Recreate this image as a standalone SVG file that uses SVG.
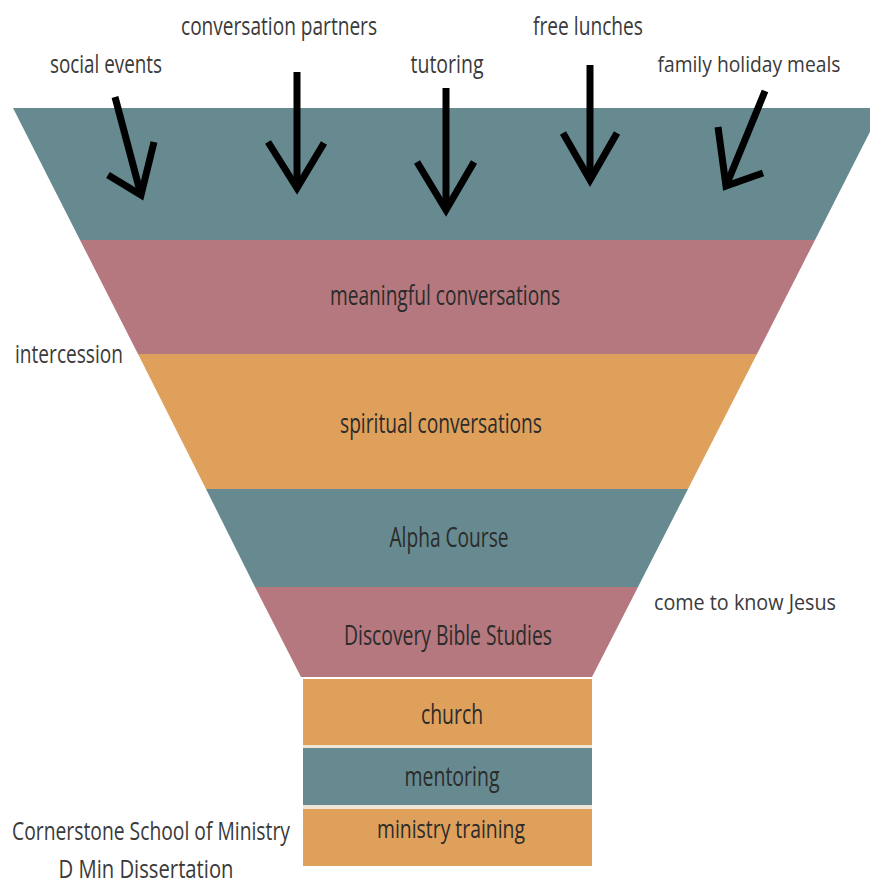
<svg xmlns="http://www.w3.org/2000/svg" width="870" height="886" viewBox="0 0 870 886">
<style>
.teal{fill:#668a8f}
.pink{fill:#b4787e}
.orange{fill:#dfa05b}
.sep{fill:#efe6d6}
text{font-family:"Open Sans","Liberation Sans",sans-serif;text-anchor:middle}
.in{fill:#2b2b2b;font-size:27px}
.out{fill:#3a3a3a;font-size:25px}
.edge{font-size:22px}
.arr{fill:none;stroke:#000;stroke-width:7;stroke-linejoin:miter;stroke-linecap:butt}
</style>
<rect width="870" height="886" fill="#fff"/>
<g id="band-top"><polygon class="teal" points="13,108 882,108 815,240 80,240"/></g>
<g id="meaningful-conversations"><polygon class="pink" points="80,240 815,240 757,354 138,354"/><text class="in" x="445" y="305" textLength="230" lengthAdjust="spacingAndGlyphs">meaningful conversations</text></g>
<g id="spiritual-conversations"><polygon class="orange" points="138,354 757,354 688,489 206,489"/><text class="in" x="441" y="433" textLength="202" lengthAdjust="spacingAndGlyphs">spiritual conversations</text></g>
<g id="alpha-course"><polygon class="teal" points="206,489 688,489 638,587 255,587"/><text class="in" x="449" y="547" textLength="119" lengthAdjust="spacingAndGlyphs">Alpha Course</text></g>
<g id="discovery-bible-studies"><polygon class="pink" points="255,587 638,587 592,677 301,677"/><text class="in" x="448" y="645" textLength="208" lengthAdjust="spacingAndGlyphs">Discovery Bible Studies</text></g>
<g id="church"><rect class="orange" x="303" y="679" width="289" height="66"/><text class="in" x="452" y="724" textLength="62" lengthAdjust="spacingAndGlyphs">church</text></g>
<rect class="sep" x="303" y="745" width="289" height="3"/>
<g id="mentoring"><rect class="teal" x="303" y="748" width="289" height="57"/><text class="in" x="452" y="786" textLength="95" lengthAdjust="spacingAndGlyphs">mentoring</text></g>
<rect class="sep" x="303" y="805" width="289" height="4"/>
<g id="ministry-training"><rect class="orange" x="303" y="809" width="289" height="57"/><text class="in" x="451" y="838" textLength="148" lengthAdjust="spacingAndGlyphs" style="font-size:25px">ministry training</text></g>
<g id="labels">
<text class="out" x="106" y="73" textLength="112" lengthAdjust="spacingAndGlyphs">social events</text>
<text class="out" x="279" y="35" textLength="196" lengthAdjust="spacingAndGlyphs">conversation partners</text>
<text class="out" x="447" y="73" textLength="73" lengthAdjust="spacingAndGlyphs">tutoring</text>
<text class="out" x="588" y="35" textLength="110" lengthAdjust="spacingAndGlyphs">free lunches</text>
<text class="out edge" x="749" y="72" textLength="183" lengthAdjust="spacingAndGlyphs">family holiday meals</text>
<text class="out" x="69" y="363" textLength="108" lengthAdjust="spacingAndGlyphs">intercession</text>
<text class="out edge" x="745" y="610" textLength="182" lengthAdjust="spacingAndGlyphs">come to know Jesus</text>
<text class="out" x="151" y="840" textLength="278" lengthAdjust="spacingAndGlyphs">Cornerstone School of Ministry</text>
<text class="out" x="146" y="878" textLength="175" lengthAdjust="spacingAndGlyphs">D Min Dissertation</text>
</g>
<g id="connectors">
<line class="arr" x1="115" y1="97" x2="141" y2="195"/><polyline class="arr" points="108,175 141,195 154,142"/>
<line class="arr" x1="297" y1="72" x2="297" y2="188"/><polyline class="arr" points="268,142 297,188 324,143"/>
<line class="arr" x1="446" y1="88" x2="446" y2="210"/><polyline class="arr" points="417,162 446,210 474,162"/>
<line class="arr" x1="590" y1="65" x2="590" y2="180"/><polyline class="arr" points="563,133 590,180 617,133"/>
<line class="arr" x1="765" y1="91" x2="726" y2="186"/><polyline class="arr" points="718,127 726,186 763,173"/>
</g>
</svg>
